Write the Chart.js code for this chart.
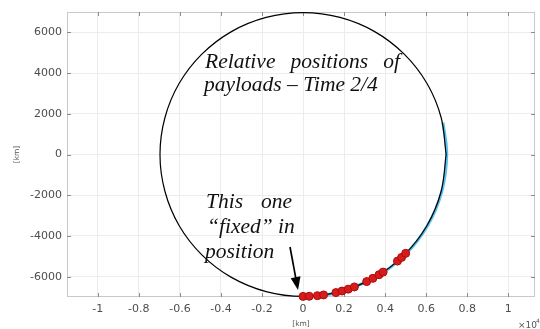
<!DOCTYPE html>
<html>
<head>
<meta charset="utf-8">
<script src="https://cdn.jsdelivr.net/npm/chart.js@4.4.0/dist/chart.umd.min.js"></script>
<style>
html, body { margin: 0; padding: 0; background: #fff; }
</style>
</head>
<body>
<canvas id="orbitChart" width="540" height="329"></canvas>
<script>
// x values are in 10^4 km, y values in km
const xTicks = [-1, -0.8, -0.6, -0.4, -0.2, 0, 0.2, 0.4, 0.6, 0.8, 1];
const yTicks = [-6000, -4000, -2000, 0, 2000, 4000, 6000];

// reference orbit (black circle), read every 15 deg
const orbitX = [0.697, 0.673, 0.604, 0.493, 0.349, 0.180, 0, -0.180, -0.349, -0.493, -0.604, -0.673,
                -0.697, -0.673, -0.604, -0.493, -0.349, -0.180, 0, 0.180, 0.349, 0.493, 0.604, 0.673, 0.697];
const orbitY = [0, 1804, 3485, 4929, 6036, 6733, 6970, 6733, 6036, 4929, 3485, 1804,
                0, -1804, -3485, -4929, -6036, -6733, -6970, -6733, -6036, -4929, -3485, -1804, 0];

// blue track of the payloads
const trackX = [0.097, 0.181, 0.351, 0.496, 0.607, 0.676, 0.700, 0.682];
const trackY = [-6912, -6745, -6046, -4937, -3490, -1806, 0, 1568];

// red payload positions
const payloadX = [0, 0.03, 0.07, 0.10, 0.16, 0.19, 0.22, 0.25, 0.31, 0.34, 0.37, 0.39, 0.46, 0.48, 0.50];
const payloadY = [-6970, -6964, -6935, -6898, -6784, -6706, -6614, -6506, -6243, -6084, -5907, -5777, -5237, -5054, -4856];

const toPts = (xs, ys) => xs.map((x, i) => ({ x: x, y: ys[i] }));

// frame + inward tick marks, matlab style
const framePlugin = {
    id: 'frame',
    beforeDatasetsDraw: (chart) => {
        const c = chart.ctx;
        const a = chart.chartArea;
        const sx = chart.scales.x, sy = chart.scales.y;
        c.save();
        c.strokeStyle = '#c9c9c9';
        c.lineWidth = 1;
        c.strokeRect(a.left + 0.5, a.top + 0.5, a.right - a.left - 1, a.bottom - a.top - 1);
        c.strokeStyle = '#8c8c8c';
        c.beginPath();
        xTicks.forEach(v => {
            const px = Math.round(sx.getPixelForValue(v)) + 0.5;
            c.moveTo(px, a.top); c.lineTo(px, a.top + 4);
            c.moveTo(px, a.bottom); c.lineTo(px, a.bottom - 4);
        });
        yTicks.forEach(v => {
            const py = Math.round(sy.getPixelForValue(v)) + 0.5;
            c.moveTo(a.left, py); c.lineTo(a.left + 4, py);
            c.moveTo(a.right, py); c.lineTo(a.right - 4, py);
        });
        c.stroke();
        c.restore();
    }
};

// text notes, arrow and the x10^4 exponent
function drawJustified(c, words, x0, x1, y) {
    const total = words.reduce((s, w) => s + c.measureText(w).width, 0);
    const gap = (x1 - x0 - total) / (words.length - 1);
    let x = x0;
    words.forEach(w => {
        c.fillText(w, x, y);
        x += c.measureText(w).width + gap;
    });
}

const notesPlugin = {
    id: 'notes',
    afterDraw: (chart) => {
        const c = chart.ctx;
        c.save();
        c.fillStyle = '#111';
        c.textBaseline = 'alphabetic';
        c.font = 'italic 21.5px "Liberation Serif", "Times New Roman", serif';
        drawJustified(c, ['Relative', 'positions', 'of'], 205, 400, 68);
        c.fillText('payloads \u2013 Time 2/4', 204, 91);
        drawJustified(c, ['This', 'one'], 206, 292, 208);
        c.fillText('\u201cfixed\u201d in', 207, 233);
        c.fillText('position', 205, 258);

        // arrow
        const x0 = 290, y0 = 247, x1 = 298, y1 = 290;
        const ang = Math.atan2(y1 - y0, x1 - x0);
        c.strokeStyle = '#000';
        c.lineWidth = 1.7;
        c.beginPath();
        c.moveTo(x0, y0);
        c.lineTo(x1 - 10 * Math.cos(ang), y1 - 10 * Math.sin(ang));
        c.stroke();
        c.fillStyle = '#000';
        c.beginPath();
        c.moveTo(x1, y1);
        c.lineTo(x1 - 13 * Math.cos(ang) + 5 * Math.sin(ang), y1 - 13 * Math.sin(ang) - 5 * Math.cos(ang));
        c.lineTo(x1 - 13 * Math.cos(ang) - 5 * Math.sin(ang), y1 - 13 * Math.sin(ang) + 5 * Math.cos(ang));
        c.closePath();
        c.fill();

        c.fillStyle = '#555';
        c.font = '9px "DejaVu Sans"';
        c.fillText('\u00d710', 518, 328);
        c.font = '6px "DejaVu Sans"';
        c.fillText('4', 536, 323);
        c.restore();
    }
};

const tickFont = { family: 'DejaVu Sans', size: 11 };
const titleFont = { family: 'DejaVu Sans', size: 7.5 };

new Chart(document.getElementById('orbitChart'), {
    type: 'scatter',
    data: {
        datasets: [
            {
                data: toPts(payloadX, payloadY),
                backgroundColor: '#d81c1c',
                borderColor: '#a80d0d',
                borderWidth: 1,
                pointRadius: 4,
                clip: false
            },
            {
                data: toPts(orbitX, orbitY),
                showLine: true,
                borderColor: '#000',
                borderWidth: 1.2,
                pointRadius: 0,
                tension: 0.34
            },
            {
                data: toPts(trackX, trackY),
                showLine: true,
                borderColor: '#5cc0ee',
                borderWidth: 3,
                pointRadius: 0,
                tension: 0.34
            }
        ]
    },
    options: {
        responsive: false,
        animation: false,
        devicePixelRatio: 1,
        layout: { padding: { top: 12, right: 3, left: 0, bottom: 0 } },
        plugins: { legend: { display: false }, tooltip: { enabled: false } },
        scales: {
            x: {
                type: 'linear',
                min: -1.15,
                max: 1.13,
                afterBuildTicks: (s) => { s.ticks = xTicks.map(v => ({ value: v })); },
                afterFit: (s) => { s.height = 32; },
                grid: { color: '#ececec', drawTicks: false },
                border: { display: false },
                ticks: {
                    padding: 6,
                    color: '#4d4d4d',
                    font: tickFont,
                    callback: (v) => String(Math.round(v * 10) / 10)
                },
                title: { display: true, text: '[km]', color: '#555', font: titleFont, padding: { top: 0, bottom: 0 } }
            },
            y: {
                type: 'linear',
                min: -7000,
                max: 7000,
                afterBuildTicks: (s) => { s.ticks = yTicks.map(v => ({ value: v })); },
                afterFit: (s) => { s.width = 67; },
                grid: { color: '#ececec', drawTicks: false },
                border: { display: false },
                ticks: {
                    padding: 5,
                    color: '#4d4d4d',
                    font: tickFont,
                    callback: (v) => String(v)
                },
                title: { display: true, text: '[km]', color: '#555', font: titleFont, padding: { top: 13, bottom: 0 } }
            }
        }
    },
    plugins: [framePlugin, notesPlugin]
});
</script>
</body>
</html>
